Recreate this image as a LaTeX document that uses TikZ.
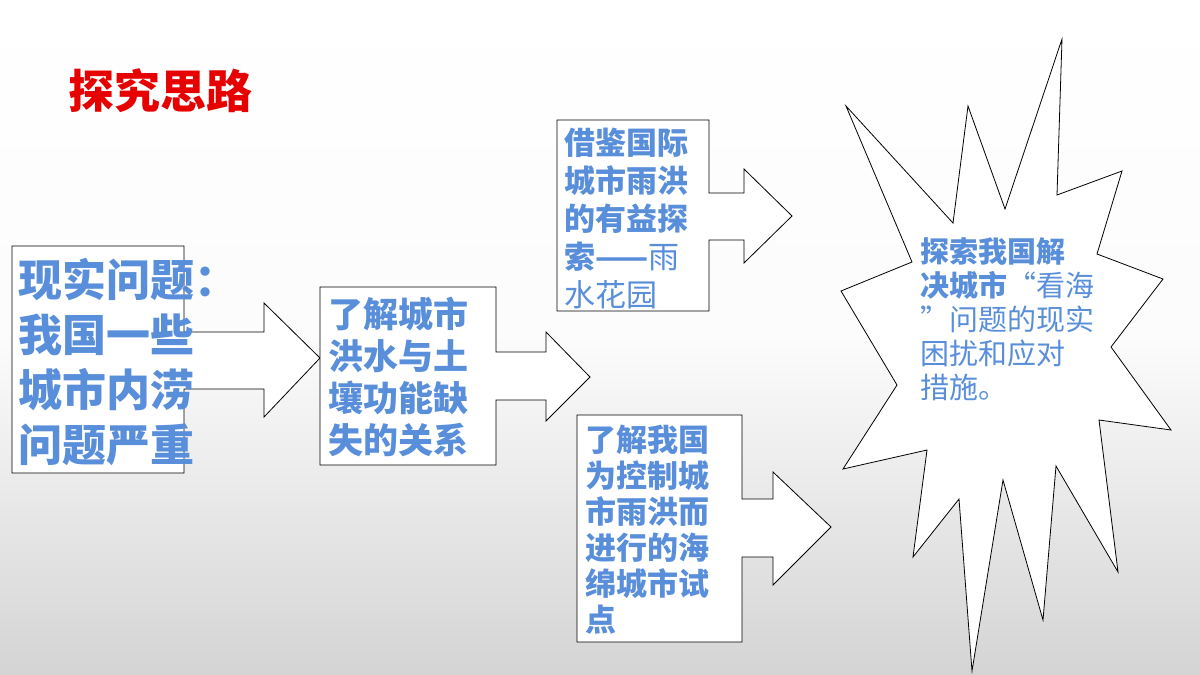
\documentclass[tikz,border=0pt]{standalone}
\usepackage{fontspec}
\newfontfamily\cjk{Noto Sans CJK SC}[BoldFont={Noto Sans CJK SC Black}]
\definecolor{txtblue}{RGB}{88,142,218}
\definecolor{titlered}{RGB}{230,0,0}
\definecolor{bggray}{RGB}{212,212,212}
\tikzset{
  callout/.style = {draw=black, fill=white, line width=0.8pt, line join=miter},
  boxtext/.style = {anchor=north west, inner sep=0pt, align=left, text=txtblue, font=\cjk\bfseries},
}
% box with arrow: x1,y1,x2,y2, shaft top,bottom, head base x, head top,bottom, tip x
\newcommand{\calloutbox}[9]{%
  \draw[callout] (#1,#2) -- (#3,#2) -- (#3,#5)
    -- (#6,#5) -- (#6,#7) -- (#9) -- (#6,#8) -- (#6,#4)
    -- (#3,#4) -- (#3,\boxbottom) -- (#1,\boxbottom) -- cycle;}
\begin{document}
\begin{tikzpicture}[x=1pt,y=-1pt]
  \shade[top color=white, bottom color=bggray, middle color=white!92!bggray]
    (0,0) rectangle (1200,675);
  \useasboundingbox (0,0) rectangle (1200,675);

  \node[anchor=north west, inner sep=0pt, text=titlered, font=\cjk\bfseries\fontsize{46}{52}\selectfont]
    (title) at (68,68) {探究思路};

  % problem box
  \def\boxbottom{473}
  \calloutbox{12}{246}{184}{389}{332}{264}{303}{417}{320,358}
  \node[boxtext, font=\cjk\bfseries\fontsize{44}{55}\selectfont] (problem) at (18,258)
    {现实问题：\\我国一些\\城市内涝\\问题严重};

  % relation box
  \def\boxbottom{465}
  \calloutbox{320}{287}{496}{400}{352}{546}{332}{421}{590,377}
  \node[boxtext, font=\cjk\bfseries\fontsize{35}{42}\selectfont] (relation) at (328,297)
    {了解城市\\洪水与土\\壤功能缺\\失的关系};

  % international box
  \def\boxbottom{311}
  \calloutbox{557}{120}{709}{240}{193}{744}{169}{263}{792,216}
  \node[boxtext, font=\cjk\bfseries\fontsize{31}{38}\selectfont] (abroad) at (564,128)
    {借鉴国际\\城市雨洪\\的有益探\\索——{\mdseries 雨}\\{\mdseries 水花园}};

  % sponge city box
  \def\boxbottom{642}
  \calloutbox{577}{415}{742}{557}{499}{773}{472}{585}{831,527}
  \node[boxtext, font=\cjk\bfseries\fontsize{31}{36}\selectfont] (sponge) at (585,425)
    {了解我国\\为控制城\\市雨洪而\\进行的海\\绵城市试\\点};

  % burst
  \draw[callout] (1062,39) -- (1057,195) -- (1122,171) -- (1097,254) -- (1163,279)
    -- (1111,347) -- (1171,430) -- (1099,420) -- (1118,572) -- (1056,466)
    -- (1043,620) -- (1003,480) -- (972,671) -- (959,499) -- (913,557)
    -- (927,450) -- (843,469) -- (897,385) -- (841,291) -- (912,262)
    -- (846,106) -- (953,223) -- (968,106) -- (1005,209) -- cycle;
  \node[boxtext, font=\cjk\fontsize{29}{34}\selectfont] (measures) at (920,237)
    {\textbf{探索我国解}\\\textbf{决城市}“看海\\”问题的现实\\困扰和应对\\措施。};
\end{tikzpicture}
\end{document}
